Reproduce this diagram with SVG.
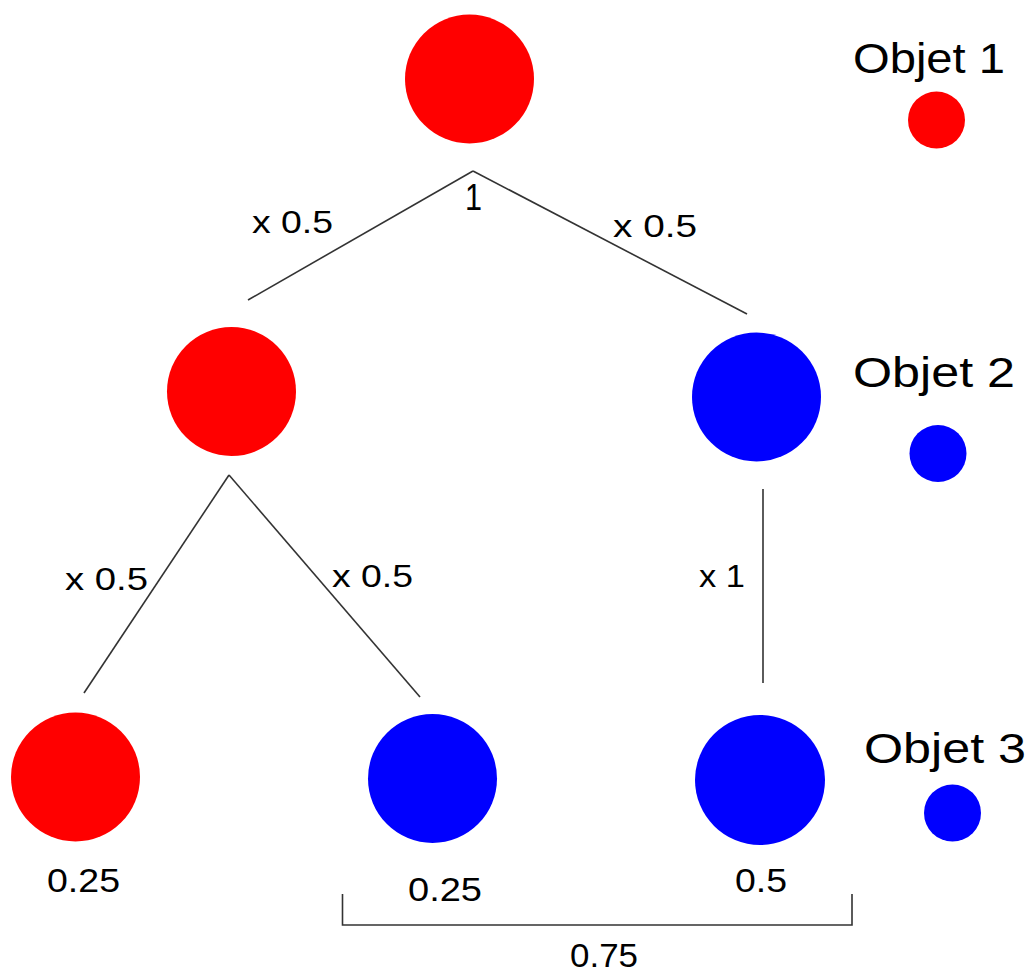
<svg xmlns="http://www.w3.org/2000/svg" width="1032" height="972" viewBox="0 0 1032 972">
<style>
.red{fill:#ff0000}
.blue{fill:#0000ff}
.lbl{font-family:"Liberation Sans",Arial,sans-serif;font-size:32px;fill:#000}
.val{font-family:"Liberation Sans",Arial,sans-serif;font-size:34px;fill:#000}
.obj{font-family:"Liberation Sans",Arial,sans-serif;font-size:43px;fill:#000}
.edge{stroke:#333;stroke-width:1.6;fill:none}
</style>
<rect width="1032" height="972" fill="#fff"/>
<g id="connectors">
<line class="edge" x1="473" y1="171" x2="248" y2="300"/>
<line class="edge" x1="473" y1="171" x2="747" y2="314"/>
<line class="edge" x1="229" y1="475" x2="84" y2="693"/>
<line class="edge" x1="229" y1="475" x2="420" y2="697"/>
<line class="edge" x1="763" y1="489" x2="763" y2="683"/>
<polyline class="edge" points="342.5,894 342.5,925 852,925 852,894"/>
</g>
<g id="edge-labels">
<text class="lbl" x="252" y="233" textLength="81" lengthAdjust="spacingAndGlyphs">x 0.5</text>
<text class="lbl" x="613" y="237" textLength="84" lengthAdjust="spacingAndGlyphs">x 0.5</text>
<text class="lbl" x="65" y="590" textLength="83" lengthAdjust="spacingAndGlyphs">x 0.5</text>
<text class="lbl" x="332" y="587" textLength="81" lengthAdjust="spacingAndGlyphs">x 0.5</text>
<text class="lbl" x="699" y="587" textLength="46" lengthAdjust="spacingAndGlyphs">x 1</text>
<text class="lbl" x="465" y="210" style="font-size:36px" textLength="17" lengthAdjust="spacingAndGlyphs">1</text>
</g>
<g id="root"><circle class="red" cx="469.5" cy="79" r="64.5"/></g>
<g id="mid-left"><circle class="red" cx="231.5" cy="391.5" r="64.5"/></g>
<g id="mid-right"><circle class="blue" cx="756.5" cy="397" r="64.5"/></g>
<g id="leaf-1"><circle class="red" cx="75.5" cy="777" r="64.5"/>
<text class="val" x="47" y="892" textLength="73" lengthAdjust="spacingAndGlyphs">0.25</text></g>
<g id="leaf-2"><circle class="blue" cx="432.5" cy="778.5" r="64.5"/>
<text class="val" x="408" y="901" textLength="74" lengthAdjust="spacingAndGlyphs">0.25</text></g>
<g id="leaf-3"><circle class="blue" cx="760" cy="780" r="65"/>
<text class="val" x="735" y="892" textLength="52" lengthAdjust="spacingAndGlyphs">0.5</text></g>
<g id="sum"><text class="val" x="570" y="967" textLength="68" lengthAdjust="spacingAndGlyphs">0.75</text></g>
<g id="legend-1"><text class="obj" x="853" y="73" textLength="152" lengthAdjust="spacingAndGlyphs">Objet 1</text>
<circle class="red" cx="936.5" cy="120" r="28.5"/></g>
<g id="legend-2"><text class="obj" x="853" y="387" textLength="162" lengthAdjust="spacingAndGlyphs">Objet 2</text>
<circle class="blue" cx="938" cy="453.5" r="28.5"/></g>
<g id="legend-3"><text class="obj" x="864" y="763" textLength="162" lengthAdjust="spacingAndGlyphs">Objet 3</text>
<circle class="blue" cx="952.5" cy="813" r="28.5"/></g>
</svg>
